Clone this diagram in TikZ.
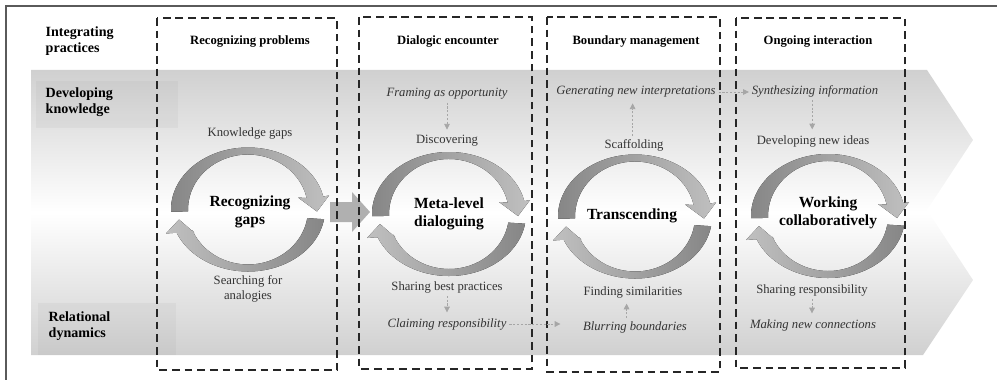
\documentclass[tikz,border=0pt]{standalone}
\usepackage{fontspec}
\setmainfont{Liberation Serif}
\usetikzlibrary{arrows.meta}
\definecolor{ringdark}{RGB}{134,134,134}
\definecolor{ringlight}{RGB}{192,192,192}
\definecolor{bandgray}{RGB}{208,208,208}
\definecolor{blockgray}{RGB}{176,176,176}
\definecolor{framegray}{RGB}{90,90,90}

\tikzset{
  hdr/.style={font=\bfseries\fontsize{9}{11}\selectfont, inner sep=1pt},
  rowlbl/.style={font=\bfseries\fontsize{10}{11.5}\selectfont, align=left, anchor=west, inner sep=1pt},
  lbl/.style={font=\fontsize{9}{10.5}\selectfont, text=black!80, align=center, inner sep=1pt},
  itl/.style={lbl, font=\itshape\fontsize{9}{10.5}\selectfont},
  core/.style={font=\bfseries\fontsize{11}{12.5}\selectfont, align=center, inner sep=1pt},
  phase/.style={draw=black!85, line width=1.5pt, dash pattern=on 5.5pt off 3.5pt},
  flow/.style={draw=gray!70, line width=0.5pt, dash pattern=on 1.5pt off 1.2pt,
    -{Triangle[length=4pt,width=4pt]}, shorten <=1pt, shorten >=3pt},
  pics/ringcycle/.style={code={
    \fill[left color=ringdark, right color=ringlight]
      (178:77 and 62) arc[start angle=178, end angle=348, x radius=77, y radius=62]
      -- (81,-14) -- (69,2) -- (50,-12)
      -- (348:60 and 55) arc[start angle=348, end angle=178, x radius=60, y radius=55] -- cycle;
    \fill[left color=ringlight, right color=ringdark]
      (9:77 and 62) arc[start angle=9, end angle=158, x radius=77, y radius=62]
      -- (-82,24) -- (-69,10) -- (-54,23)
      -- (158:60 and 55) arc[start angle=158, end angle=9, x radius=60, y radius=55] -- cycle;
  }}
}

\begin{document}
\begin{tikzpicture}[x=0.025cm, y=-0.025cm]
\useasboundingbox (0,0) rectangle (997,380);

% background band
\shade[top color=bandgray, bottom color=bandgray, middle color=white]
  (31,70) -- (927,70) -- (973,140) -- (927,210) -- (973,280) -- (923,355) -- (31,355) -- cycle;
\fill[black, opacity=.03] (36,81) rectangle (178,128);
\fill[black, opacity=.03] (38,303) rectangle (176,355);

% frame
\draw[framegray, line width=1.1pt] (6,380) -- (6,6) -- (997,6);

% block arrow between first two phases
\fill[blockgray] (330,202) -- (352,202) -- (352,192) -- (370,212) -- (352,232) -- (352,222) -- (330,222) -- cycle;

% phases
\draw[phase] (157,18) rectangle (337,370);
\draw[phase] (359,17) rectangle (532,369);
\draw[phase] (547,17) rectangle (720,372);
\draw[phase] (736,18) rectangle (905,368);

% cycles
\pic at (248,209.5) {ringcycle};
\pic at (449,214) {ringcycle};
\pic at (635,216.5) {ringcycle};
\pic at (828,216) {ringcycle};

% row labels
\node[rowlbl] (intprac) at (44,41) {Integrating\\practices};
\node[rowlbl] (devknow) at (44,102) {Developing\\knowledge};
\node[rowlbl] (reldyn) at (47,326) {Relational\\dynamics};

% headers
\node[hdr] (hprob) at (250,42) {Recognizing problems};
\node[hdr] (hdial) at (448,42) {Dialogic encounter};
\node[hdr] (hbound) at (636,42) {Boundary management};
\node[hdr] (hongo) at (818,42) {Ongoing interaction};

% recognizing problems
\node[lbl] (kgaps) at (250,133) {Knowledge gaps};
\node[core] (recgaps) at (250,212) {Recognizing\\gaps};
\node[lbl] (search) at (248,289) {Searching for\\analogies};

% dialogic encounter
\node[itl] (framing) at (447,94) {Framing as opportunity};
\node[lbl] (disc) at (447,141) {Discovering};
\node[core] (meta) at (449,214) {Meta-level\\dialoguing};
\node[lbl] (sharebest) at (447,287) {Sharing best practices};
\node[itl] (claim) at (447,324) {Claiming responsibility};

% boundary management
\node[itl] (gener) at (636,92) {Generating new interpretations};
\node[lbl] (scaff) at (634,145) {Scaffolding};
\node[core] (transc) at (632,216) {Transcending};
\node[lbl] (finding) at (633,292) {Finding similarities};
\node[itl] (blur) at (635,327) {Blurring boundaries};

% ongoing interaction
\node[itl] (synth) at (815,91) {Synthesizing information};
\node[lbl] (devideas) at (813,141) {Developing new ideas};
\node[core] (working) at (828,213) {Working\\collaboratively};
\node[lbl] (sharresp) at (812,290) {Sharing responsibility};
\node[itl] (making) at (813,325) {Making new connections};

% dashed links
\draw[flow] (framing) -- (disc);
\draw[flow] (sharebest) -- (claim);
\draw[flow, shorten >=15pt] (claim.east) -- (claim.east -| blur.west);
\draw[flow] ([xshift=-1pt]scaff.north) -- ([xshift=-1pt]scaff.north |- gener.south);
\draw[flow, shorten >=1pt] (gener.east) -- (gener.east -| synth.west);
\draw[flow] ([xshift=-6pt]blur.north) -- ([xshift=-6pt]blur.north |- finding.south);
\draw[flow] ([xshift=-2pt]synth.south) -- ([xshift=-2pt]synth.south |- devideas.north);
\draw[flow] (sharresp) -- (sharresp |- making.north);
\end{tikzpicture}
\end{document}
